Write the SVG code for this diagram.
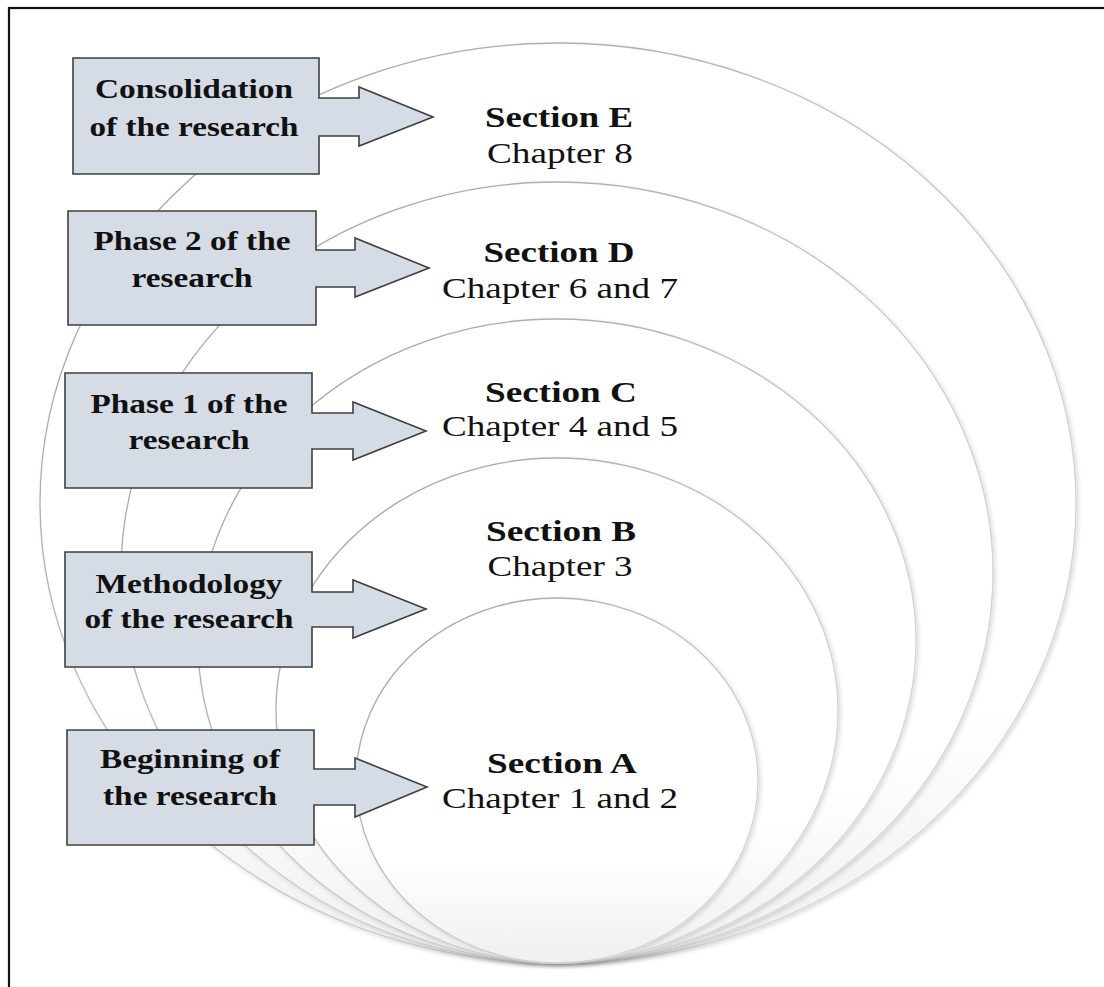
<svg xmlns="http://www.w3.org/2000/svg" width="1104" height="987" viewBox="0 0 1104 987">
  <style>
    .ring { stroke: url(#ringStroke); stroke-width: 1.3; fill: url(#ringFill); filter: url(#soft); }
    .sec { font-family: "Liberation Serif", "Times New Roman", serif; font-size: 30px; font-weight: bold; fill: #111; text-anchor: middle; }
    .chap { font-family: "Liberation Serif", "Times New Roman", serif; font-size: 30px; fill: #111; text-anchor: middle; }
    .box { fill: #d6dce5; stroke: #3f3f3f; stroke-width: 1.6; stroke-linejoin: miter; }
    .lbl { font-family: "Liberation Serif", "Times New Roman", serif; font-size: 27px; font-weight: bold; fill: #111; text-anchor: middle; }
  </style>
  <defs>
    <linearGradient id="ringFill" x1="0" y1="0" x2="0" y2="1">
      <stop offset="0" stop-color="#ffffff"/>
      <stop offset="0.72" stop-color="#ffffff"/>
      <stop offset="1" stop-color="#efefef"/>
    </linearGradient>
    <linearGradient id="ringStroke" x1="0" y1="0" x2="1" y2="1">
      <stop offset="0" stop-color="#9a9a9a"/>
      <stop offset="0.55" stop-color="#c8c8c8"/>
      <stop offset="1" stop-color="#dedede"/>
    </linearGradient>
    <filter id="soft" x="-5%" y="-5%" width="110%" height="110%">
      <feDropShadow dx="2" dy="2" stdDeviation="2" flood-color="#000" flood-opacity="0.14"/>
    </filter>
  </defs>
  <rect x="0" y="0" width="1104" height="987" fill="#ffffff"/>
  <rect x="9" y="8" width="1200" height="1200" fill="none" stroke="#111" stroke-width="2.2"/>

  <g id="section-e">
    <ellipse class="ring" cx="558" cy="503" rx="518" ry="460"/>
    <text class="sec" x="559" y="127" textLength="148" lengthAdjust="spacingAndGlyphs">Section E</text>
    <text class="chap" x="560" y="163" textLength="146" lengthAdjust="spacingAndGlyphs">Chapter 8</text>
  </g>
  <g id="section-d">
    <ellipse class="ring" cx="557" cy="572.5" rx="436" ry="390.5"/>
    <text class="sec" x="559" y="262" textLength="151" lengthAdjust="spacingAndGlyphs">Section D</text>
    <text class="chap" x="560" y="298" textLength="236" lengthAdjust="spacingAndGlyphs">Chapter 6 and 7</text>
  </g>
  <g id="section-c">
    <ellipse class="ring" cx="557" cy="641" rx="359" ry="322"/>
    <text class="sec" x="561" y="402" textLength="152" lengthAdjust="spacingAndGlyphs">Section C</text>
    <text class="chap" x="560" y="436" textLength="236" lengthAdjust="spacingAndGlyphs">Chapter 4 and 5</text>
  </g>
  <g id="section-b">
    <ellipse class="ring" cx="557" cy="710.5" rx="281" ry="252.5"/>
    <text class="sec" x="561" y="541" textLength="150" lengthAdjust="spacingAndGlyphs">Section B</text>
    <text class="chap" x="560" y="576" textLength="145" lengthAdjust="spacingAndGlyphs">Chapter 3</text>
  </g>
  <g id="section-a">
    <ellipse class="ring" cx="557" cy="780.5" rx="201" ry="182.5"/>
    <text class="sec" x="562" y="773" textLength="150" lengthAdjust="spacingAndGlyphs">Section A</text>
    <text class="chap" x="560" y="808" textLength="236" lengthAdjust="spacingAndGlyphs">Chapter 1 and 2</text>
  </g>

  <g id="connectors"></g>

  <g id="box-consolidation">
    <path class="box" d="M73,58 H319 V98 H359 V87 L433,117 L359,146 V136 H319 V174 H73 Z"/>
    <text class="lbl" x="194" y="98" textLength="198" lengthAdjust="spacingAndGlyphs">Consolidation</text>
    <text class="lbl" x="194" y="136" textLength="209" lengthAdjust="spacingAndGlyphs">of the research</text>
  </g>
  <g id="box-phase2">
    <path class="box" d="M68,211 H316 V250 H355 V238 L429,268 L355,297 V287 H316 V325 H68 Z"/>
    <text class="lbl" x="192" y="250" textLength="197" lengthAdjust="spacingAndGlyphs">Phase 2 of the</text>
    <text class="lbl" x="192" y="287" textLength="121" lengthAdjust="spacingAndGlyphs">research</text>
  </g>
  <g id="box-phase1">
    <path class="box" d="M65,373 H312 V413 H353 V402 L426,431 L353,460 V449 H312 V488 H65 Z"/>
    <text class="lbl" x="189" y="413" textLength="197" lengthAdjust="spacingAndGlyphs">Phase 1 of the</text>
    <text class="lbl" x="189" y="449" textLength="121" lengthAdjust="spacingAndGlyphs">research</text>
  </g>
  <g id="box-methodology">
    <path class="box" d="M65,552 H312 V592 H353 V580 L426,609 L353,638 V627 H312 V667 H65 Z"/>
    <text class="lbl" x="189" y="593" textLength="187" lengthAdjust="spacingAndGlyphs">Methodology</text>
    <text class="lbl" x="189" y="628" textLength="209" lengthAdjust="spacingAndGlyphs">of the research</text>
  </g>
  <g id="box-beginning">
    <path class="box" d="M67,730 H314 V769 H355 V758 L427,787 L355,817 V805 H314 V845 H67 Z"/>
    <text class="lbl" x="190" y="768" textLength="180" lengthAdjust="spacingAndGlyphs">Beginning of</text>
    <text class="lbl" x="190" y="805" textLength="174" lengthAdjust="spacingAndGlyphs">the research</text>
  </g>
</svg>
